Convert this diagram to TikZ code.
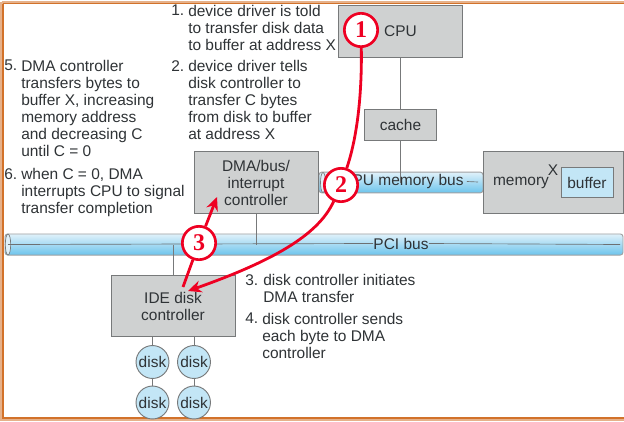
\documentclass[tikz,border=0pt]{standalone}
\usepackage{fontspec}
\setmainfont{Liberation Sans}
\newfontfamily\numfont{Liberation Serif}
\usetikzlibrary{arrows.meta,calc,positioning}
\definecolor{boxgray}{HTML}{CFD1D1}
\definecolor{boxedge}{HTML}{77797A}
\definecolor{inktext}{HTML}{2F3336}
\definecolor{paleblue}{HTML}{C3E6F6}
\definecolor{busbot}{HTML}{6CC4EC}
\definecolor{busmid}{HTML}{B4DFF4}
\definecolor{bustop}{HTML}{E0F1FA}
\definecolor{redline}{HTML}{EE0022}
\definecolor{frameor}{HTML}{D2722A}
\newcommand{\txtfont}{\fontsize{11.6pt}{12.75pt}\selectfont}
\tikzset{
  graybox/.style={draw=boxedge,line width=0.7pt,fill=boxgray,text=inktext,font=\txtfont,align=center,inner sep=0pt,minimum width=#1},
  diskn/.style={circle,draw=boxedge,line width=0.7pt,fill=paleblue,text=inktext,font=\txtfont,minimum size=24.7pt,inner sep=0pt},
  lbl/.style={anchor=north west,align=left,text=inktext,inner sep=0pt,font=\txtfont},
  plainlbl/.style={text=inktext,font=\txtfont,inner sep=0pt},
  wire/.style={draw=boxedge,line width=0.6pt},
  busline/.style={draw=inktext!70!white,line width=0.5pt},
  numc/.style={circle,draw=redline,line width=2pt,fill=white,text=redline,minimum size=25pt,inner sep=0pt,font=\fontsize{18pt}{18pt}\selectfont\bfseries\numfont},
  redarrow/.style={draw=redline,line width=2.1pt,-{Stealth[length=10pt,width=9pt]}},
  redlinee/.style={draw=redline,line width=2.1pt},
  bus/.style={draw=boxedge!70!white,line width=0.7pt,rounded corners=2pt,top color=bustop,middle color=busmid,bottom color=busbot}
}
\begin{document}
\begin{tikzpicture}[x=0.75pt,y=-0.75pt]
\useasboundingbox (0,0) rectangle (624,421);
% frame
\fill[white] (0,0) rectangle (624,421);
\draw[frameor!55!white,line width=2.2pt] (1.5,2) -- (624,2);
\draw[frameor,line width=0.8pt] (3,3.5) -- (624,3.5);
\draw[frameor!55!white,line width=2.2pt] (1.5,2) -- (1.5,419.5) -- (624,419.5);
\draw[frameor,line width=0.8pt] (3,3.5) -- (3,418) -- (624,418);
% buses
\node[bus,minimum width=123pt,minimum height=15.5pt,inner sep=0pt] (membus) at (401,182.5) {};
\node[bus,minimum width=463.5pt,minimum height=15.8pt,inner sep=0pt] (pcibus) at (314,244.5) {};
\draw[boxedge,line width=0.5pt,fill=bustop] (8,244.5) ellipse (2.7 and 10.5);
\draw[boxedge,line width=0.5pt,fill=bustop] (323,182.5) ellipse (2.5 and 10);
% boxes
\node[graybox=93.5pt,minimum height=39.5pt] (cpu) at (400.5,31.5) {CPU};
\node[graybox=54pt,minimum height=23pt] (cache) at (400.5,125) {cache};
\node[graybox=105pt,minimum height=46.5pt] (memory) at (553,182) {};
\node[draw=boxedge,line width=0.7pt,fill=paleblue,text=inktext,font=\txtfont,minimum width=39pt,minimum height=23pt,inner sep=0pt] (buffer) at (587,182.5) {buffer};
\node[plainlbl] (memlbl) at (521,183) {memory};
\node[plainlbl] (xlbl) at (553,170) {X};
\node[graybox=93pt,minimum height=46pt] (dma) at (256,182.5) {DMA/bus/\\interrupt\\controller};
\node[graybox=93pt,minimum height=46pt] (ide) at (173,306) {IDE disk\\controller};
\node[diskn] (d1) at (152.5,362) {disk};
\node[diskn] (d2) at (194,362) {disk};
\node[diskn] (d3) at (152.5,402.5) {disk};
\node[diskn] (d4) at (194,402.5) {disk};
% wires
\draw[wire] (cpu) -- (cache);
\draw[wire] (cache) -- (cache |- membus);
\draw[wire] (dma) -- (dma |- pcibus);
\draw[wire] (ide) -- (ide |- pcibus);
\draw[wire] (d1.north |- ide.south) -- (d1);
\draw[wire] (d2.north |- ide.south) -- (d2);
\draw[wire] (d1) -- (d3);
\draw[wire] (d2) -- (d4);
% bus labels
\node[plainlbl] (cpumem) at (402.5,181.5) {CPU memory bus};
\node[plainlbl] (pcilbl) at (401,243.5) {PCI bus};
\draw[busline] (8,244.5) -- (pcilbl.west);
\draw[busline] (pcilbl.east) -- (620,244.5);
\draw[busline] (cpumem.east)++(3,0) -- (478,182);
% texts
\node[lbl] (t1n) at (171,5) {1.};
\node[lbl] (t1) at (188,5) {device driver is told\\to transfer disk data\\to buffer at address X};
\node[lbl] (t2n) at (171,60) {2.};
\node[lbl] (t2) at (188,60) {device driver tells\\disk controller to\\transfer C bytes\\from disk to buffer\\at address X};
\node[lbl] (t5n) at (4,60) {5.};
\node[lbl] (t5) at (21,60) {DMA controller\\transfers bytes to\\buffer X, increasing\\memory address\\and decreasing C\\until C = 0};
\node[lbl] (t6n) at (4,168) {6.};
\node[lbl] (t6) at (21,168) {when C = 0, DMA\\interrupts CPU to signal\\transfer completion};
\node[lbl] (t3n) at (245,274) {3.};
\node[lbl] (t3) at (263,274) {disk controller initiates\\DMA transfer};
\node[lbl] (t4n) at (245,313) {4.};
\node[lbl] (t4) at (262,313) {disk controller sends\\each byte to DMA\\controller};
% red
\coordinate (tip2) at (188,291);
\coordinate (tip3) at (217,197);
\coordinate (start3) at (183,287);
\node[numc] (c1) at (361,30) {1};
\node[numc] (c2) at (341,185) {2};
\node[numc] (c3) at (199,243) {3};
\draw[redlinee] (c1) .. controls (362,90) and (358,135) .. (c2);
\draw[redarrow] (c2) .. controls (318,236) and (270,262) .. (tip2);
\draw[redlinee] (start3) -- (c3);
\draw[redarrow] (c3) -- (tip3);
\end{tikzpicture}
\end{document}
